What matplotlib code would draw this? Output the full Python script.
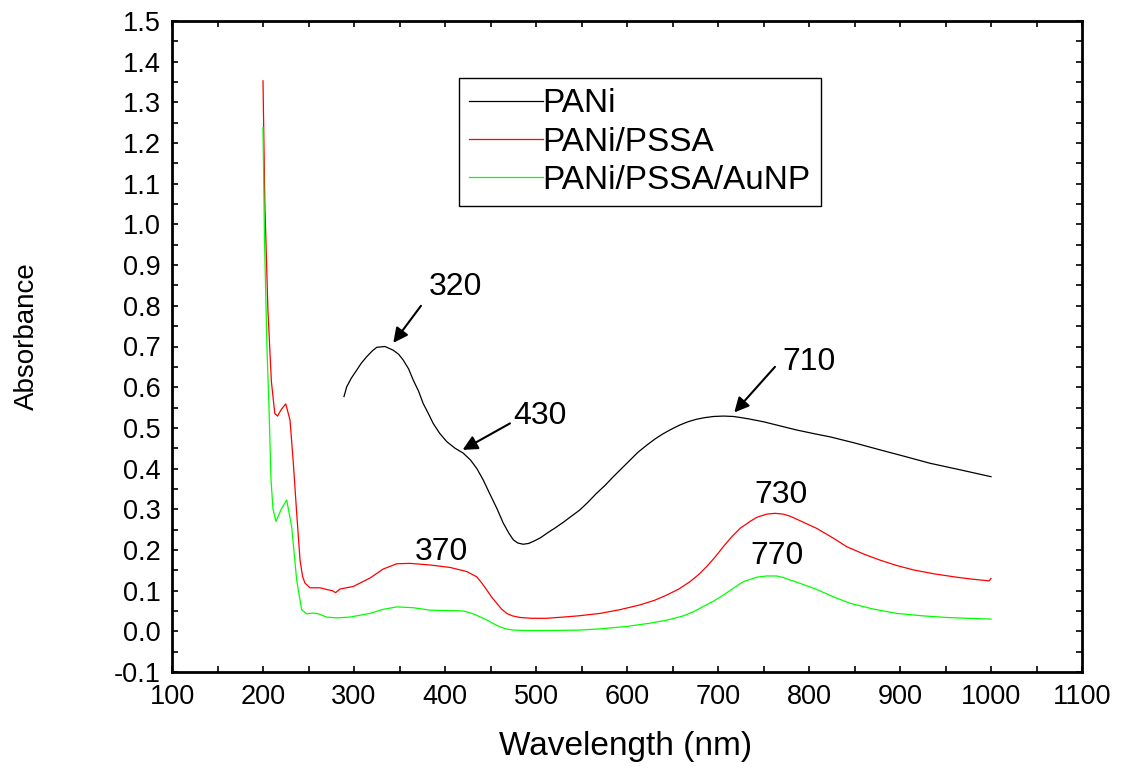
import matplotlib
matplotlib.use("Agg")
import matplotlib.pyplot as plt
from matplotlib.ticker import MultipleLocator

plt.rcParams['font.family'] = ['Liberation Sans', 'DejaVu Sans']

# ---------------- data ----------------
pani_x = [289, 292, 297, 303, 308, 314, 320, 325, 334, 343, 349, 354, 360, 365, 371, 376,
          382, 387, 394, 402, 411, 420, 428, 435, 442, 449, 457, 464, 470, 475, 480, 486,
          492, 498, 505, 512, 521, 530, 539, 548, 557, 566, 576, 585, 594, 603, 612, 622,
          631, 640, 649, 658, 667, 676, 685, 695, 706, 717, 726, 734, 750, 768, 786, 805,
          823, 850, 878, 905, 933, 966, 1000]
pani_y = [0.577, 0.601, 0.622, 0.642, 0.659, 0.675, 0.689, 0.698, 0.700, 0.691, 0.681,
          0.667, 0.645, 0.618, 0.590, 0.560, 0.534, 0.511, 0.487, 0.466, 0.450, 0.438,
          0.421, 0.400, 0.372, 0.339, 0.302, 0.266, 0.242, 0.225, 0.217, 0.214, 0.216,
          0.222, 0.230, 0.241, 0.254, 0.268, 0.283, 0.298, 0.317, 0.338, 0.359, 0.380,
          0.400, 0.420, 0.440, 0.458, 0.473, 0.486, 0.497, 0.507, 0.515, 0.521, 0.525,
          0.528, 0.529, 0.528, 0.525, 0.522, 0.515, 0.505, 0.495, 0.486, 0.478, 0.463,
          0.446, 0.430, 0.413, 0.397, 0.380]

pssa_x = [200, 202, 205.4, 209.2, 213, 216, 220, 225, 229.7, 233.3, 237, 240.7, 243.5,
          246, 251.6, 262.6, 271.4, 276, 279.8, 284.6, 299, 317.6, 332, 347, 361.5,
          383.5, 405.5, 423.8, 434.8, 440, 445.8, 451, 456.8, 462, 467.8, 474, 482.4,
          495, 511.7, 530, 546.5, 570.3, 592, 614.3, 630, 643.6, 657, 669.2, 679, 687.5,
          697, 705.8, 715, 724.2, 735.2, 742.5, 753.5, 762.6, 771.8, 779.1, 790, 808.4,
          826.7, 841.4, 860, 878, 896, 914.6, 938, 962.3, 980, 998, 1000]
pssa_y = [1.353, 1.054, 0.790, 0.614, 0.535, 0.529, 0.545, 0.559, 0.519, 0.414, 0.291,
          0.175, 0.135, 0.119, 0.107, 0.107, 0.102, 0.100, 0.095, 0.104, 0.110, 0.131,
          0.153, 0.166, 0.167, 0.163, 0.157, 0.147, 0.134, 0.120, 0.102, 0.085, 0.069,
          0.055, 0.044, 0.038, 0.034, 0.032, 0.032, 0.035, 0.038, 0.044, 0.053, 0.065,
          0.076, 0.089, 0.104, 0.122, 0.140, 0.159, 0.183, 0.208, 0.232, 0.253, 0.270,
          0.280, 0.288, 0.290, 0.288, 0.283, 0.272, 0.253, 0.229, 0.208, 0.190, 0.175,
          0.162, 0.151, 0.141, 0.133, 0.128, 0.124, 0.130]

aunp_x = [200, 201.6, 204.3, 206.6, 208.8, 211, 214.3, 220, 226, 231.5, 237, 242.5, 248,
          255, 260.8, 270, 281, 295.6, 317.6, 332.2, 347, 365, 383.5, 420, 431, 438,
          445.8, 453, 460.4, 467, 475, 490, 511.7, 548, 570.3, 600, 625.3, 645, 661.9,
          673, 683.8, 695, 705.8, 717, 727.8, 742.5, 753.5, 764.5, 771.8, 790, 808.4,
          826.5, 845, 870, 896.4, 925, 951.3, 975, 1000]
aunp_y = [1.238, 0.967, 0.700, 0.550, 0.372, 0.300, 0.270, 0.300, 0.323, 0.257, 0.126,
          0.053, 0.043, 0.045, 0.043, 0.035, 0.033, 0.035, 0.044, 0.054, 0.060, 0.058,
          0.052, 0.050, 0.043, 0.036, 0.028, 0.019, 0.011, 0.006, 0.003, 0.002, 0.002,
          0.003, 0.006, 0.012, 0.020, 0.028, 0.038, 0.048, 0.061, 0.074, 0.089, 0.106,
          0.122, 0.133, 0.136, 0.136, 0.132, 0.118, 0.103, 0.085, 0.069, 0.055, 0.044,
          0.038, 0.034, 0.032, 0.030]

series_labels = ["PANi", "PANi/PSSA", "PANi/PSSA/AuNP"]
series_colors = ["#000000", "#ff0000", "#00ff00"]

peak_labels = ["320", "430", "710", "370", "730", "770"]

# ---------------- figure ----------------
fig = plt.figure(figsize=(11.22, 7.71), dpi=100)
ax = fig.add_axes([172/1122, 1-672/771, 910/1122, 651/771])

for xs, ys, lab, col in zip([pani_x, pssa_x, aunp_x], [pani_y, pssa_y, aunp_y],
                            series_labels, series_colors):
    ax.plot(xs, ys, color=col, lw=0.9, label=lab)

ax.set_xlim(100, 1100)
ax.set_ylim(-0.1, 1.5)
ax.xaxis.set_major_locator(MultipleLocator(100))
ax.xaxis.set_minor_locator(MultipleLocator(50))
ax.yaxis.set_minor_locator(MultipleLocator(0.05))
yt = [round(-0.1 + 0.1*i, 1) for i in range(17)]
ax.set_yticks(yt)
ax.set_yticklabels([f"{v:.1f}" for v in yt])

ax.tick_params(which='both', direction='in', top=True, right=True, length=4, width=1.2)
ax.tick_params(which='major', labelsize=19.5)
ax.tick_params(axis='x', which='major', pad=9)
ax.tick_params(axis='y', which='major', pad=8)
for sp in ax.spines.values():
    sp.set_linewidth(2.0)

fig.text(626/1122, 1-746/771, "Wavelength (nm)", ha='center', va='center', fontsize=24)
fig.text(27/1122, 1-336/771, "Absorbance", ha='center', va='center', rotation=90, fontsize=20)

leg = ax.legend(loc='upper left', bbox_to_anchor=(0.3157, 0.912), fontsize=24,
                frameon=True, fancybox=False, edgecolor='black', framealpha=1,
                handlelength=2.2, handletextpad=0.0, labelspacing=0.22,
                borderpad=0.3, borderaxespad=0.0)
leg.get_frame().set_linewidth(1.0)

# annotations
arrow_kw = dict(arrowstyle='-|>', color='black', lw=1.5, mutation_scale=22,
                shrinkA=0, shrinkB=0)
ax.annotate('', xy=(343.2, 0.709), xytext=(373.6, 0.80), arrowprops=arrow_kw)
ax.annotate('', xy=(419.4, 0.446), xytext=(471.4, 0.511), arrowprops=arrow_kw)
ax.annotate('', xy=(717.9, 0.538), xytext=(762.6, 0.65), arrowprops=arrow_kw)

label_pos = [(411.8, 0.847), (504.4, 0.53), (800, 0.662),
             (396.4, 0.196), (769, 0.335), (764.5, 0.185)]
for lab, (px, py) in zip(peak_labels, label_pos):
    ax.text(px, py, lab, ha='center', va='center', fontsize=23)

fig.savefig("out.png", dpi=100)
